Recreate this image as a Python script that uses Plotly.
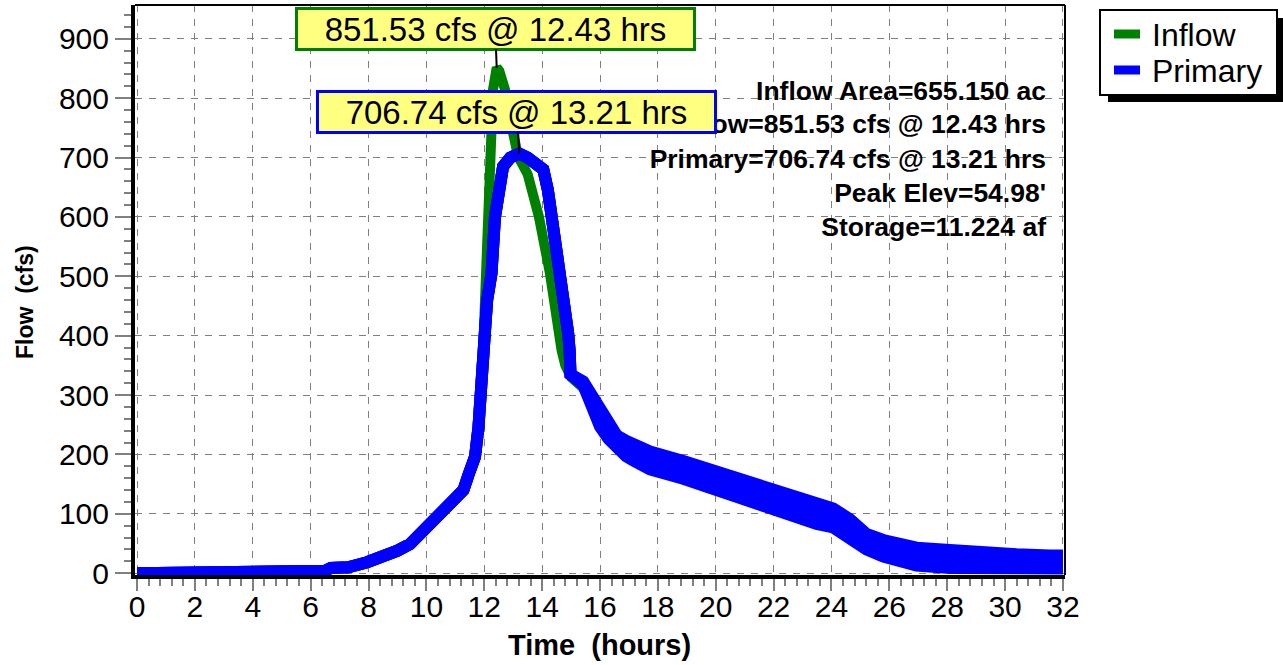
import plotly.graph_objects as go

# ---- hydrograph data (hours, cfs) ----
inflow_hours = [0, 5.1, 5.3, 6.5, 6.7, 7.3, 7.95, 8.3, 8.74, 9.0, 9.43, 9.7, 9.97, 10.3, 10.59,
                10.95, 11.1, 11.28, 11.45, 11.6, 11.68, 11.8, 11.91, 11.98, 12.05, 12.1, 12.13,
                12.2, 12.25, 12.3, 12.36, 12.43, 12.52, 12.62, 12.72, 12.85, 13.0, 13.17, 13.5,
                13.89, 14.27, 14.52, 14.67, 14.8, 15.0, 15.42, 15.7, 16.0, 16.3, 16.58, 16.9,
                17.15, 17.73, 18.88, 20.03, 21.18, 22.33, 23.49, 24.06, 24.64, 25.21, 25.79,
                26.36, 26.94, 28.09, 29.24, 30.4, 31.55, 32.0]
inflow_cfs = [0, 0.5, 3.5, 4, 9, 10, 18.5, 24, 32, 38, 49, 62, 77, 89, 101,
              124, 132, 142, 167, 188, 198, 248, 305, 400, 470, 510, 600,
              685, 745, 814, 843, 851.53, 846, 832, 814, 775, 735, 702, 672,
              600, 505, 404, 376, 350, 330, 312, 288, 258, 236, 221, 210,
              204, 190, 174, 155, 137, 118, 101, 93, 74, 53, 42,
              33, 28, 24, 21, 20, 19, 19]

primary_hours = [0, 5.1, 5.3, 6.5, 6.7, 7.3, 7.95, 8.3, 8.74, 9.0, 9.43, 9.7, 9.97, 10.3, 10.59,
                 10.95, 11.1, 11.28, 11.45, 11.6, 11.68, 11.8, 11.91, 12.02, 12.1, 12.25, 12.37,
                 12.5, 12.65, 12.9, 13.21, 13.5, 13.75, 14.04, 14.2, 14.35, 14.5, 14.64, 14.78,
                 14.9, 14.95, 14.98, 15.42, 15.7, 16.0, 16.3, 16.58, 16.9, 17.15, 17.73, 18.88,
                 20.03, 21.18, 22.33, 23.49, 24.06, 24.64, 25.21, 25.79, 26.36, 26.94, 28.09,
                 29.24, 30.4, 31.55, 32.0]
primary_cfs = [0, 0.5, 3.5, 4, 9, 10, 18.5, 24, 32, 38, 49, 62, 77, 89, 101,
               123, 131, 140, 165, 185, 196, 246, 303, 404, 460, 505, 600,
               650, 685, 700, 706.74, 700, 692, 680, 645, 600, 550, 505, 455,
               404, 375, 335, 320, 290, 261, 238, 221, 210, 204, 190, 174,
               155, 137, 118, 101, 93, 74, 53, 42, 33, 28, 24,
               21, 20, 19, 19]
# half-range of the step-to-step oscillation in the routed outflow
primary_swing = [0, 0, 0, 0, 0, 0, 0, 0, 0, 0, 0, 0, 0, 0, 0,
                 0, 0, 0, 0, 0, 0, 0, 0, 0, 0, 0, 0,
                 0, 0, 0, 0, 0, 0, 0, 0, 0, 0, 0, 0,
                 0, 0, 0, 3, 9, 14, 12, 11, 13, 14, 15, 15,
                 16, 18, 18, 18, 16, 17, 13, 14, 15, 15, 15,
                 13, 12, 11, 11]

x_ticks = list(range(0, 33, 2))
y_ticks = list(range(0, 1000, 100))

series_names = ["Inflow", "Primary"]
peak_labels = ["851.53 cfs @ 12.43 hrs", "706.74 cfs @ 13.21 hrs"]
summary_lines = ["Inflow Area=655.150 ac", "Inflow=851.53 cfs @ 12.43 hrs",
                 "Primary=706.74 cfs @ 13.21 hrs", "Peak Elev=54.98'", "Storage=11.224 af"]

GREEN = "#008000"
BLUE = "#0000ff"
FONT = "Liberation Sans, Arial, sans-serif"

# page geometry
W, H = 1283, 665
L, R, T, B = 135, 218, 5, 90
PW, PH = W - L - R, H - T - B
X_RANGE = [-0.07, 32.07]
Y_RANGE = [-3, 957]


def px_x(px):
    return (px - L) / PW


def px_y(py):
    return (H - B - py) / PH


def data_x(px):
    return X_RANGE[0] + px_x(px) * (X_RANGE[1] - X_RANGE[0])


def data_y(py):
    return Y_RANGE[0] + px_y(py) * (Y_RANGE[1] - Y_RANGE[0])


upper = [c + s for c, s in zip(primary_cfs, primary_swing)]
lower = [c - s for c, s in zip(primary_cfs, primary_swing)]

fig = go.Figure()
fig.add_trace(go.Scatter(x=inflow_hours, y=inflow_cfs, mode="lines", name=series_names[0],
                         line=dict(color=GREEN, width=10)))
fig.add_trace(go.Scatter(x=primary_hours, y=upper, mode="lines", hoverinfo="skip",
                         line=dict(color=BLUE, width=12)))
fig.add_trace(go.Scatter(x=primary_hours, y=lower, mode="lines", hoverinfo="skip",
                         fill="tonexty", fillcolor=BLUE, line=dict(color=BLUE, width=12)))
fig.add_trace(go.Scatter(x=primary_hours, y=primary_cfs, mode="lines", name=series_names[1],
                         line=dict(color=BLUE, width=12)))

# summary block, right aligned inside the plot (drawn under the peak boxes)
line_centers = [93, 126, 161, 195, 229]
fig.add_trace(go.Scatter(
    x=[data_x(1046)] * len(summary_lines), y=[data_y(p) for p in line_centers],
    mode="text", text=summary_lines, textposition="middle left", hoverinfo="skip",
    cliponaxis=False,
    textfont=dict(family=FONT, size=26.5, color="black", weight="bold")))

grid = dict(gridcolor="#808080", gridwidth=1, griddash="7px,7px", showgrid=True)

fig.update_xaxes(range=X_RANGE, tickvals=x_ticks, ticktext=[str(v) for v in x_ticks],
                 ticks="outside", ticklen=12, tickwidth=2, tickcolor="#808080",
                 ticklabelstandoff=-10,
                 tickfont=dict(family=FONT, size=30, color="black"),
                 showline=True, linecolor="black", linewidth=4, zeroline=False,
                 minor=dict(dtick=0.4, tick0=0, ticks="outside", ticklen=7, tickwidth=2,
                            tickcolor="#808080", showgrid=False),
                 **grid)
fig.update_yaxes(range=Y_RANGE, tickvals=y_ticks, ticktext=[str(v) for v in y_ticks],
                 ticks="outside", ticklen=16, tickwidth=2, tickcolor="#808080",
                 tickfont=dict(family=FONT, size=30, color="black"),
                 showline=True, linecolor="black", linewidth=4, zeroline=False,
                 minor=dict(dtick=20, tick0=0, ticks="outside", ticklen=7, tickwidth=2,
                            tickcolor="#808080", showgrid=False),
                 **grid)

annotations = [
    dict(xref="paper", yref="paper", x=px_x(25), y=px_y(302), xanchor="center",
         yanchor="middle", textangle=-90, showarrow=False,
         text="<b>Flow\u00a0 (cfs)</b>", font=dict(family=FONT, size=23, color="black")),
    dict(xref="paper", yref="paper", x=px_x(599), y=px_y(645), xanchor="center",
         yanchor="middle", showarrow=False,
         text="<b>Time\u00a0 (hours)</b>", font=dict(family=FONT, size=29, color="black")),
]
for label, hx, qy, bcol, ax, ay in [
    (peak_labels[0], 12.43, 851.53, GREEN, -1.5, -39),
    (peak_labels[1], 13.21, 706.74, BLUE, -2.3, -41.7),
]:
    annotations.append(dict(
        x=hx, y=qy, xref="x", yref="y", text=label, showarrow=True, arrowhead=0,
        arrowwidth=2, arrowcolor="black", ax=ax, ay=ay, standoff=0,
        bgcolor="#ffff80", bordercolor=bcol, borderwidth=3, borderpad=1,
        width=393, height=36, font=dict(family=FONT, size=33, color="black")))

# legend box with drop shadow
shapes = [
    dict(type="line", xref="paper", yref="paper", x0=0, x1=1, y0=1, y1=1,
         line=dict(color="black", width=2)),
    dict(type="line", xref="paper", yref="paper", x0=1, x1=1, y0=0, y1=1,
         line=dict(color="black", width=2)),
    dict(type="rect", xref="paper", yref="paper", x0=px_x(1108), x1=px_x(1284),
         y0=px_y(102), y1=px_y(18), fillcolor="black", line=dict(width=0)),
    dict(type="rect", xref="paper", yref="paper", x0=px_x(1100), x1=px_x(1277),
         y0=px_y(95), y1=px_y(10), fillcolor="white", line=dict(color="black", width=2)),
]
for i, (name, col) in enumerate(zip(series_names, [GREEN, BLUE])):
    cy = 34 + i * 36
    shapes.append(dict(type="line", xref="paper", yref="paper", x0=px_x(1114), x1=px_x(1140),
                       y0=px_y(cy), y1=px_y(cy), line=dict(color=col, width=9)))
    annotations.append(dict(xref="paper", yref="paper", x=px_x(1150), y=px_y(cy + 1),
                            xanchor="left", yanchor="middle", showarrow=False, text=name,
                            font=dict(family=FONT, size=32, color="black")))

fig.update_layout(
    width=W, height=H, margin=dict(l=L, r=R, t=T, b=B, autoexpand=False),
    paper_bgcolor="white", plot_bgcolor="white",
    font=dict(family=FONT, color="black"),
    showlegend=False,
    annotations=annotations, shapes=shapes,
)

fig.write_html("out.html")
